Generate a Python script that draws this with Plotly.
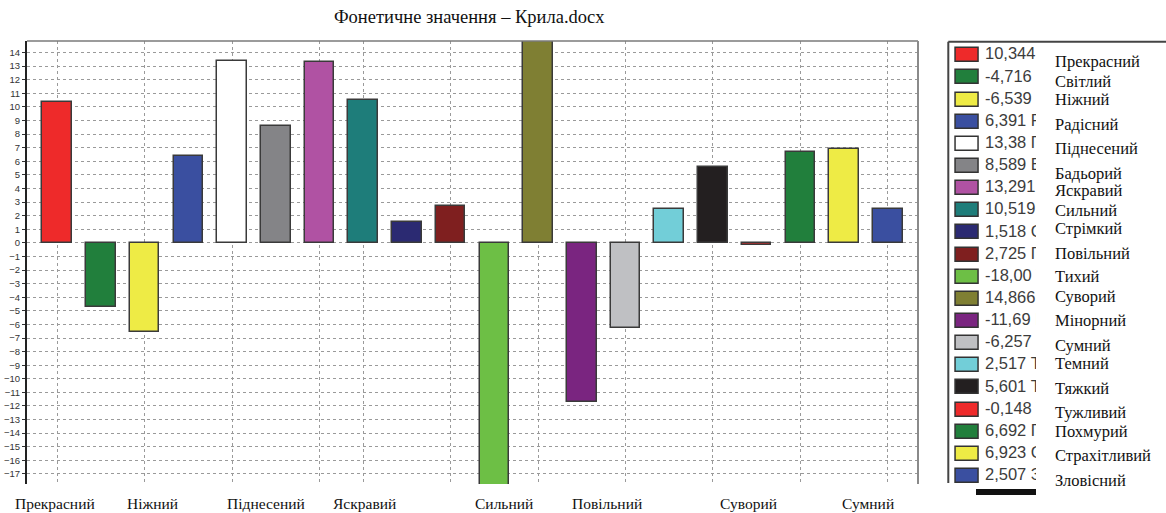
import plotly.graph_objects as go

# ---- data -------------------------------------------------------------
categories = [
    "Прекрасний", "Світлий", "Ніжний", "Радісний", "Піднесений",
    "Бадьорий", "Яскравий", "Сильний", "Стрімкий", "Повільний",
    "Тихий", "Суворий", "Мінорний", "Сумний", "Темний",
    "Тяжкий", "Тужливий", "Похмурий", "Страхітливий", "Зловісний",
]
values = [
    10.344, -4.716, -6.539, 6.391, 13.38,
    8.589, 13.291, 10.519, 1.518, 2.725,
    -18.0, 14.866, -11.69, -6.257, 2.517,
    5.601, -0.148, 6.692, 6.923, 2.507,
]
colors = [
    "#ee2a2a", "#217f3c", "#eeeb45", "#3a4fa0", "#ffffff",
    "#848487", "#b052a3", "#1e7d7a", "#2b2a72", "#7f1f1f",
    "#6dbf45", "#7f7f33", "#7a2580", "#bfc0c3", "#72ced8",
    "#231f20", "#ee2a2a", "#217f3c", "#eeeb45", "#3a4fa0",
]
# category slots that carry a vertical gridline / a caption under the axis
grid_slots = [0, 2, 4, 6, 7, 9, 11, 13, 15, 17, 19]
caption_slots = [0, 2, 4, 6, 7, 9, 11, 13]

title_text = "Фонетичне значення – Крила.docx"

# ---- layout constants (pixels) ----------------------------------------
W, H = 1166, 513
ML, MR, MT, MB = 27, 0, 41, 29
PW, PH = W - ML - MR, H - MT - MB
MAIN_RIGHT = 918

caption_x = [-0.06, 2.19, 4.77, 7.04, 10.22, 12.57, 15.82, 18.55]
name_y_px = [62, 81, 99, 124, 148, 173, 191, 211, 228, 254,
             276, 296, 321, 345, 363, 388, 412, 431, 455, 480]
ROW0, ROW_STEP = 55.3, 22.14


def px_x(px):
    return (px - ML) / PW


def px_y(py):
    return (H - MB - py) / PH


def fmt(v):
    s = repr(v)
    if len(s.split(".")[1]) < 2:
        s = f"{v:.2f}"
    return s.replace(".", ",")


rows = list(range(len(categories)))
row_top = (MT - ROW0) / ROW_STEP
row_bot = (H - MB - ROW0) / ROW_STEP

serif = "Liberation Serif, Times New Roman, serif"
sans = "Liberation Sans, Arial, sans-serif"

fig = go.Figure()

# main bars
fig.add_trace(go.Bar(
    x=rows, y=values, width=0.675,
    marker=dict(color=colors, line=dict(color="#3a3a3a", width=1.5)),
    xaxis="x", yaxis="y", showlegend=False, hoverinfo="x+y",
))

# legend swatches
fig.add_trace(go.Bar(
    orientation="h", y=rows, x=[1] * len(rows), base=0, width=0.63,
    marker=dict(color=colors, line=dict(color="#333333", width=1.5)),
    xaxis="x2", yaxis="y2", showlegend=False, hoverinfo="skip",
))

# legend value strings, cut off by their narrow subplot
fig.add_trace(go.Scatter(
    x=[0] * len(rows), y=rows, mode="text",
    text=[f"{fmt(v)} {n[0]}" for v, n in zip(values, categories)],
    textposition="middle right", cliponaxis=True,
    textfont=dict(family=sans, size=16.5, color="#3c3c3c"),
    xaxis="x3", yaxis="y3", showlegend=False, hoverinfo="skip",
))

grid_style = dict(showgrid=True, gridcolor="#9a9a9a", gridwidth=1,
                  griddash="3px,3px", zeroline=False)

fig.update_layout(
    width=W, height=H,
    margin=dict(l=ML, r=MR, t=MT, b=MB),
    paper_bgcolor="white", plot_bgcolor="white",
    bargap=0, showlegend=False,
    xaxis=dict(domain=[0, px_x(MAIN_RIGHT)], range=[-0.69, 19.69],
               tickmode="array", tickvals=grid_slots, showticklabels=False,
               ticks="", showline=False, anchor="y", **grid_style),
    yaxis=dict(domain=[0, 1], range=[-17.74, 14.85], tick0=0, dtick=1,
               showline=True, linecolor="#222222", linewidth=2,
               ticks="outside", ticklen=3, tickcolor="#333333",
               tickfont=dict(family=sans, size=9.5, color="#333333"),
               anchor="x", **grid_style),
    xaxis2=dict(domain=[px_x(953.8), px_x(980.9)], range=[-0.08, 1.08],
                visible=False, anchor="y2"),
    yaxis2=dict(domain=[0, 1], range=[row_bot, row_top],
                visible=False, anchor="x2"),
    xaxis3=dict(domain=[px_x(985), px_x(1036)], range=[0, 1],
                visible=False, anchor="y3"),
    yaxis3=dict(domain=[0, 1], range=[row_bot, row_top],
                visible=False, anchor="x3"),
)

annotations = [
    dict(text=title_text, xref="paper", yref="paper",
         x=px_x(469), y=px_y(17), xanchor="center", yanchor="middle",
         showarrow=False, font=dict(family=serif, size=18.5, color="#111111")),
]
for slot, cx in zip(caption_slots, caption_x):
    annotations.append(dict(
        text=categories[slot], xref="x", yref="paper", x=cx, y=px_y(503),
        xanchor="center", yanchor="middle", showarrow=False,
        font=dict(family=serif, size=15.5, color="#111111")))
for name, ny in zip(categories, name_y_px):
    annotations.append(dict(
        text=name, xref="paper", yref="paper", x=px_x(1053), y=px_y(ny),
        xanchor="left", yanchor="middle", showarrow=False,
        font=dict(family=serif, size=16.5, color="#111111")))
fig.update_layout(annotations=annotations)

shapes = [
    # plot frame: top and right edges
    dict(type="line", xref="x domain", yref="y domain", x0=0, x1=1, y0=1, y1=1,
         line=dict(color="#7a7a7a", width=1.5)),
    dict(type="line", xref="x domain", yref="y domain", x0=1, x1=1, y0=0, y1=1,
         line=dict(color="#8a8a8a", width=2)),
    # legend box
    dict(type="line", xref="paper", yref="paper",
         x0=px_x(948.3), x1=px_x(1166), y0=px_y(41.7), y1=px_y(41.7),
         line=dict(color="#444444", width=2)),
    dict(type="line", xref="paper", yref="paper",
         x0=px_x(948.3), x1=px_x(948.3), y0=px_y(41.7), y1=px_y(483),
         line=dict(color="#444444", width=2)),
    dict(type="rect", xref="paper", yref="paper",
         x0=px_x(976), x1=px_x(1036), y0=px_y(495), y1=px_y(489),
         fillcolor="#111111", line=dict(width=0)),
]
fig.update_layout(shapes=shapes)

fig.write_html("out.html")
